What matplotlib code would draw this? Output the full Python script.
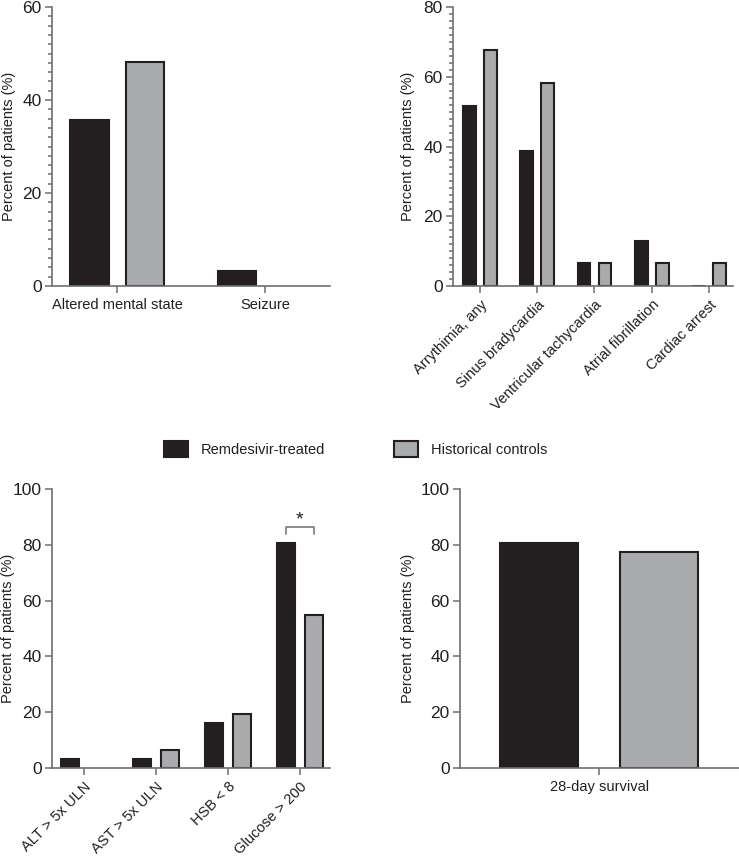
import matplotlib
matplotlib.use("Agg")
import matplotlib.pyplot as plt
from matplotlib.patches import Patch
from matplotlib.ticker import MultipleLocator
import numpy as np

plt.rcParams['font.family'] = ['Liberation Sans', 'DejaVu Sans']
plt.rcParams['font.size'] = 10.5

# couleurs
BLACK = "#231f20"
GREY = "#aaabad"
AXIS = "#6d6e71"
TEXT = "#231f20"

groups = ["Remdesivir-treated", "Historical controls"]

# neuro
neuro_cats = ["Altered mental state", "Seizure"]
neuro_rem = [35.7, 3.2]
neuro_hist = [48.2, 0]

# cardiaque
cardio_cats = ["Arrythimia, any", "Sinus bradycardia", "Ventricular tachycardia",
               "Atrial fibrillation", "Cardiac arrest"]
cardio_rem = [51.6, 38.7, 6.5, 12.9, 0]
cardio_hist = [67.7, 58.1, 6.5, 6.5, 6.5]

# labo
lab_cats = ["ALT > 5x ULN", "AST > 5x ULN", "HSB < 8", "Glucose > 200"]
lab_rem = [3.2, 3.2, 16.1, 80.6]
lab_hist = [0, 6.5, 19.4, 54.8]

# survie
surv_cats = ["28-day survival"]
surv_rem = [80.6]
surv_hist = [77.4]


def style_axes(ax):
    for s in ["top", "right"]:
        ax.spines[s].set_visible(False)
    for s in ["left", "bottom"]:
        ax.spines[s].set_color(AXIS)
        ax.spines[s].set_linewidth(1.2)
    ax.tick_params(which="both", direction="out", color=AXIS, width=1.1, labelcolor=TEXT)
    ax.tick_params(which="major", length=5)
    ax.tick_params(which="minor", length=3)
    ax.tick_params(axis="y", labelsize=12.5, pad=2.5)
    ax.set_ylabel("Percent of patients (%)", color=TEXT)


def bars(ax, cats, rem, hist, offset, width):
    x = np.arange(len(cats))
    ax.bar(x - offset, rem, width, color=BLACK, edgecolor=BLACK, linewidth=1.5)
    # pas de barre si valeur nulle
    h = np.array(hist, dtype=float)
    ax.bar(x[h > 0] + offset, h[h > 0], width, color=GREY, edgecolor=BLACK, linewidth=1.5)
    ax.set_xticks(x)
    return x


fig = plt.figure(figsize=(7.39, 8.56), dpi=100)

# haut gauche
ax1 = fig.add_axes([0.0704, 0.6659, 0.3761, 0.3259])
bars(ax1, neuro_cats, neuro_rem, neuro_hist, 0.188, 0.262)
ax1.set_xticklabels(neuro_cats)
ax1.set_xlim(-0.44, 1.44)
ax1.set_ylim(0, 60)
ax1.yaxis.set_major_locator(MultipleLocator(20))
ax1.yaxis.set_minor_locator(MultipleLocator(2))
style_axes(ax1)
ax1.yaxis.set_label_coords(-0.13, 0.5)

# haut droite
ax2 = fig.add_axes([0.613, 0.6659, 0.379, 0.3259])
bars(ax2, cardio_cats, cardio_rem, cardio_hist, 0.183, 0.225)
ax2.set_xticklabels(cardio_cats, rotation=45, ha="right", rotation_mode="anchor")
ax2.set_xlim(-0.47, 4.42)
ax2.set_ylim(0, 80)
ax2.yaxis.set_major_locator(MultipleLocator(20))
ax2.yaxis.set_minor_locator(MultipleLocator(2))
style_axes(ax2)
ax2.yaxis.set_label_coords(-0.136, 0.5)

# bas gauche
ax3 = fig.add_axes([0.0704, 0.1031, 0.3761, 0.3256])
x3 = bars(ax3, lab_cats, lab_rem, lab_hist, 0.194, 0.245)
ax3.set_xticklabels(lab_cats, rotation=45, ha="right", rotation_mode="anchor")
ax3.set_xlim(-0.444, 3.42)
ax3.set_ylim(0, 100)
ax3.yaxis.set_major_locator(MultipleLocator(20))
style_axes(ax3)
ax3.yaxis.set_label_coords(-0.133, 0.5)
# crochet de significativite
bx0, bx1 = x3[3] - 0.194, x3[3] + 0.194
ax3.plot([bx0, bx0, bx1, bx1], [83.8, 86.4, 86.4, 83.8], color=AXIS, lw=1.1, clip_on=False)
ax3.text(x3[3], 86.0, "*", ha="center", va="bottom", color=TEXT, fontsize=14)

# bas droite
ax4 = fig.add_axes([0.6225, 0.1031, 0.377, 0.3256])
bars(ax4, surv_cats, surv_rem, surv_hist, 0.215, 0.28)
ax4.set_xticklabels(surv_cats)
ax4.set_xlim(-0.5, 0.5)
ax4.set_ylim(0, 100)
ax4.yaxis.set_major_locator(MultipleLocator(20))
style_axes(ax4)
ax4.yaxis.set_label_coords(-0.161, 0.5)

for ax in [ax1, ax2, ax3, ax4]:
    for lab in ax.get_xticklabels():
        lab.set_color(TEXT)

# legende
handles = [Patch(facecolor=BLACK, edgecolor=BLACK, linewidth=1.5),
           Patch(facecolor=GREY, edgecolor=BLACK, linewidth=1.5)]
fig.legend(handles, groups, loc="center", bbox_to_anchor=(0.481, 1 - 449 / 856),
           ncol=2, frameon=False, handlelength=1.65, handleheight=1.25,
           handletextpad=0.85, columnspacing=4.75, labelcolor=TEXT)

fig.savefig("out.png", dpi=100, facecolor="white")
